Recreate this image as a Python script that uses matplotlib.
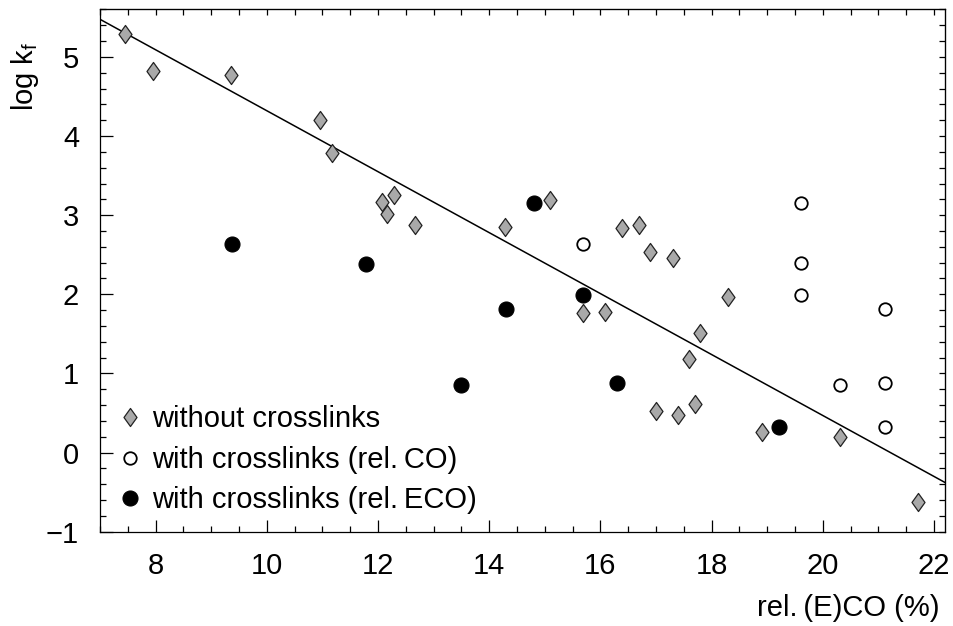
import matplotlib

matplotlib.use("Agg")
import matplotlib.pyplot as plt
from matplotlib.path import Path
from matplotlib.ticker import MultipleLocator, NullFormatter

plt.rcParams["font.family"] = ["Liberation Sans", "DejaVu Sans"]
plt.rcParams["mathtext.fontset"] = "custom"
plt.rcParams["mathtext.rm"] = "Liberation Sans"
plt.rcParams["mathtext.it"] = "Liberation Sans"

# without crosslinks (grey diamonds)
x_plain = [7.45, 7.95, 9.36, 10.96, 11.17, 12.07, 12.17, 12.28, 12.67, 14.29,
           15.09, 16.39, 16.69, 16.89, 17.30, 18.30, 15.69, 16.09, 17.80, 17.59,
           17.0, 17.40, 17.71, 18.91, 20.31, 21.72]
y_plain = [5.29, 4.82, 4.77, 4.20, 3.79, 3.16, 3.02, 3.25, 2.87, 2.85,
           3.19, 2.84, 2.88, 2.53, 2.46, 1.97, 1.76, 1.78, 1.51, 1.18,
           0.52, 0.47, 0.61, 0.26, 0.20, -0.63]

# with crosslinks, rel. CO (open circles)
x_co = [19.61, 15.69, 19.61, 19.61, 21.12, 20.31, 21.12, 21.12]
y_co = [3.15, 2.64, 2.39, 1.99, 1.82, 0.86, 0.88, 0.32]

# with crosslinks, rel. ECO (filled circles)
x_eco = [9.38, 11.79, 13.49, 14.80, 15.69, 14.30, 16.30, 19.22]
y_eco = [2.64, 2.38, 0.86, 3.15, 1.99, 1.82, 0.88, 0.32]

# regression line end points
fit_x = [7.0, 22.2]
fit_y = [5.475, -0.378]

FS = 21

# narrow diamond, roughly 0.7 wide for 1.0 tall
diamond = Path([(0, 0.5), (0.36, 0), (0, -0.5), (-0.36, 0), (0, 0.5)],
               [Path.MOVETO, Path.LINETO, Path.LINETO, Path.LINETO, Path.CLOSEPOLY])

fig = plt.figure(figsize=(9.54, 6.26), dpi=100)
ax = fig.add_axes([0.1048, 0.1506, 0.8858, 0.8344])

ax.plot(fit_x, fit_y, color="black", lw=1.1, zorder=1)
ax.plot(x_plain, y_plain, ls="none", marker=diamond, ms=13, mfc="#a9a9a9",
        mec="#222222", mew=0.9, label="without crosslinks", zorder=3)
ax.plot(x_co, y_co, ls="none", marker="o", ms=9, mfc="white",
        mec="black", mew=1.3, label="with crosslinks (rel.\u2009CO)", zorder=3)
ax.plot(x_eco, y_eco, ls="none", marker="o", ms=10.8, mfc="black",
        mec="black", mew=0.8, label="with crosslinks (rel.\u2009ECO)", zorder=3)

ax.set_xlim(7, 22.2)
ax.set_ylim(-1, 5.6)
ax.xaxis.set_major_locator(MultipleLocator(2))
ax.xaxis.set_minor_locator(MultipleLocator(0.5))
ax.yaxis.set_major_locator(MultipleLocator(1))
ax.yaxis.set_minor_locator(MultipleLocator(0.2))
ax.tick_params(which="both", direction="in", width=0.9, labelsize=FS)
ax.tick_params(which="major", length=9)
ax.tick_params(which="minor", length=4.5)
ax.tick_params(axis="x", which="major", pad=14.5)
ax.tick_params(axis="y", which="major", pad=15)
ax.set_yticks([-1, 0, 1, 2, 3, 4, 5])
ax.set_yticklabels(["\u22121", "0", "1", "2", "3", "4", "5"])

# short ticks on top and right spines
top = ax.secondary_xaxis("top")
top.xaxis.set_major_locator(MultipleLocator(0.5))
top.xaxis.set_major_formatter(NullFormatter())
top.tick_params(direction="in", length=4.5, width=0.9)
right = ax.secondary_yaxis("right")
right.yaxis.set_major_locator(MultipleLocator(0.2))
right.yaxis.set_major_formatter(NullFormatter())
right.tick_params(direction="in", length=4.5, width=0.9)

for sp in ax.spines.values():
    sp.set_linewidth(0.9)

ax.set_xlabel("rel.\u2009(E)CO (%)", fontsize=FS)
ax.xaxis.label.set_horizontalalignment("right")
ax.xaxis.label.set_verticalalignment("center")
ax.xaxis.set_label_coords(0.993, -0.146)
ax.set_ylabel(r"log k$_\mathregular{f}$", fontsize=FS)
ax.yaxis.label.set_verticalalignment("center")
ax.yaxis.set_label_coords(-0.089, 0.872)

ax.legend(loc="lower left", bbox_to_anchor=(0.018, 0.034), frameon=False,
          fontsize=FS, handlelength=1.0, handletextpad=0.26, labelspacing=0.42,
          borderaxespad=0.0, borderpad=0.0)

fig.savefig("out.png", dpi=100)
